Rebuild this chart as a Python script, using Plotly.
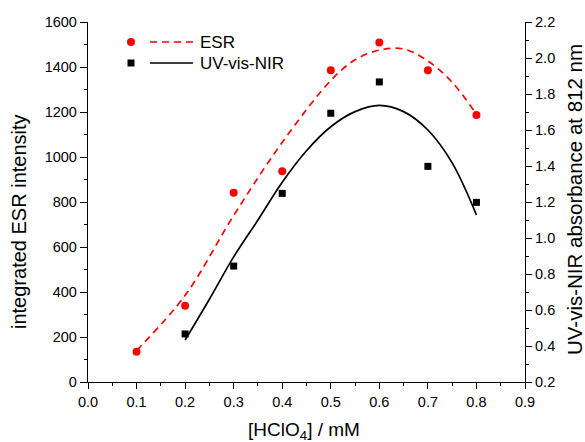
import plotly.graph_objects as go

# measured points
conc = [0.1, 0.2, 0.3, 0.4, 0.5, 0.6, 0.7, 0.8]
esr = [135, 339, 841, 937, 1386, 1509, 1386, 1187]
uv_conc = [0.2, 0.3, 0.4, 0.5, 0.6, 0.7, 0.8]
uv = [0.467, 0.844, 1.248, 1.693, 1.867, 1.398, 1.198]

# fitted curves
esr_fit_x = [0.1, 0.2, 0.3, 0.4, 0.5, 0.55, 0.6, 0.65, 0.7, 0.75, 0.8]
esr_fit_y = [140, 385, 740, 1065, 1340, 1432, 1475, 1480, 1427, 1332, 1190]
uv_fit_x = [0.2, 0.25, 0.3, 0.35, 0.4, 0.45, 0.5, 0.55, 0.6, 0.65, 0.7, 0.75, 0.8]
uv_fit_y = [0.433, 0.66, 0.895, 1.10, 1.31, 1.485, 1.618, 1.702, 1.737, 1.702, 1.60, 1.417, 1.128]

RED = "#ff0000"
FONT = "Liberation Sans, Arial, sans-serif"

# plot-area pixel box
L, R, T, B = 88, 525, 22, 382
W, H = 585, 442

fig = go.Figure()
fig.add_trace(go.Scatter(x=esr_fit_x, y=esr_fit_y, mode="lines", line=dict(color=RED, width=1.7, dash="7px,5px", shape="spline"), showlegend=False, hoverinfo="skip"))
fig.add_trace(go.Scatter(x=conc, y=esr, mode="markers", marker=dict(color=RED, size=8, symbol="circle"), showlegend=False))
fig.add_trace(go.Scatter(x=uv_fit_x, y=uv_fit_y, mode="lines", yaxis="y2", line=dict(color="black", width=1.7, shape="spline"), showlegend=False, hoverinfo="skip"))
fig.add_trace(go.Scatter(x=uv_conc, y=uv, mode="markers", yaxis="y2", marker=dict(color="black", size=7, symbol="square"), showlegend=False))


def axis_style(minor_dtick, ticklen=6):
    return dict(showline=True, linecolor="black", linewidth=1.3, ticks="outside", ticklen=ticklen, tickwidth=1.3,
                tickcolor="black", showgrid=False, zeroline=False, automargin=False,
                tickfont=dict(family=FONT, size=14.5, color="black"),
                minor=dict(ticks="outside", ticklen=3, tickwidth=1.3, tickcolor="black", showgrid=False, dtick=minor_dtick))


fig.update_layout(
    width=W, height=H,
    margin=dict(l=L, r=W - R, t=T, b=H - B),
    paper_bgcolor="white", plot_bgcolor="white",
    font=dict(family=FONT, color="black"),
    xaxis=dict(range=[0, 0.9], dtick=0.1, tick0=0, tickformat=".1f", **axis_style(0.05)),
    yaxis=dict(range=[0, 1600], dtick=200, tick0=0, **axis_style(100, 7)),
    yaxis2=dict(range=[0.2, 2.2], dtick=0.2, tick0=0.2, tickformat=".1f", overlaying="y", side="right",
                **axis_style(0.1)),
)


def px_x(p):
    return (p - L) / (R - L)


def px_y(p):
    return 1 - (p - T) / (B - T)


# axis titles
fig.add_annotation(xref="paper", yref="paper", x=px_x(304), y=px_y(431), text="[HClO<sub>4</sub>] / mM",
                   showarrow=False, xanchor="center", yanchor="middle", font=dict(family=FONT, size=19, color="black"))
fig.add_annotation(xref="paper", yref="paper", x=px_x(19), y=px_y(222), text="integrated ESR intensity",
                   showarrow=False, textangle=-90, xanchor="center", yanchor="middle",
                   font=dict(family=FONT, size=20, color="black"))
fig.add_annotation(xref="paper", yref="paper", x=px_x(574), y=px_y(200), text="UV-vis-NIR absorbance at 812 nm",
                   showarrow=False, textangle=-90, xanchor="center", yanchor="middle",
                   font=dict(family=FONT, size=20.5, color="black"))

# manual legend
shapes = []
r = 4
shapes.append(dict(type="circle", xref="paper", yref="paper", x0=px_x(131 - r), x1=px_x(131 + r),
                   y0=px_y(42 + r), y1=px_y(42 - r), fillcolor=RED, line=dict(width=0)))
shapes.append(dict(type="line", xref="paper", yref="paper", x0=px_x(150), x1=px_x(193), y0=px_y(42), y1=px_y(42),
                   line=dict(color=RED, width=1.7, dash="7px,5px")))
s = 3.5
shapes.append(dict(type="rect", xref="paper", yref="paper", x0=px_x(131 - s), x1=px_x(131 + s),
                   y0=px_y(63 + s), y1=px_y(63 - s), fillcolor="black", line=dict(width=0)))
shapes.append(dict(type="line", xref="paper", yref="paper", x0=px_x(150), x1=px_x(193), y0=px_y(63), y1=px_y(63),
                   line=dict(color="black", width=1.7)))
fig.update_layout(shapes=shapes)
fig.add_annotation(xref="paper", yref="paper", x=px_x(198), y=px_y(42), text="ESR", showarrow=False,
                   xanchor="left", yanchor="middle", font=dict(family=FONT, size=17, color="black"))
fig.add_annotation(xref="paper", yref="paper", x=px_x(198), y=px_y(63), text="UV-vis-NIR", showarrow=False,
                   xanchor="left", yanchor="middle", font=dict(family=FONT, size=17, color="black"))

fig.write_html("out.html", config={"displayModeBar": False},
               post_script="document.body.style.margin='0';document.body.style.overflow='hidden';")
